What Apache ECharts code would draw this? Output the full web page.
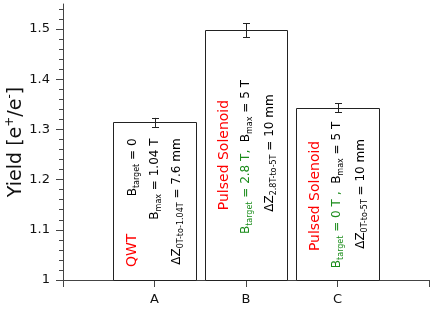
<!DOCTYPE html>
<html><head><meta charset="utf-8">
<script src="https://cdn.jsdelivr.net/npm/echarts@6/dist/echarts.min.js"></script>
<style>html,body{margin:0;padding:0;background:#fff}#c{width:436px;height:312px}</style>
</head><body><div id="c"></div>
<script>
// ---- data ----
const categories = ['A', 'B', 'C'];
const catPositions = [1, 2, 3];
const yields = [1.314, 1.498, 1.343];
const yieldErrors = [0.009, 0.014, 0.009];
const yTickValues = [1, 1.1, 1.2, 1.3, 1.4, 1.5];
const yMinorTickValues = [1.02, 1.04, 1.06, 1.08, 1.12, 1.14, 1.16, 1.18, 1.22, 1.24, 1.26, 1.28,
  1.32, 1.34, 1.36, 1.38, 1.42, 1.44, 1.46, 1.48, 1.52, 1.54];
const xTickValues = [0, 1, 2, 3, 4];
const barNotes = [
  ['{r|QWT}', '{k|B}{ks|target}{k| = 0}', '{k|B}{ks|max}{k| = 1.04 T}', '{k|ΔZ}{ks|0T-to-1.04T}{k| = 7.6 mm}'],
  ['{r|Pulsed Solenoid}', '{g|B}{gs|target}{g| = 2.8 T,}{k|  B}{ks|max}{k| = 5 T}', '{k|ΔZ}{ks|2.8T-to-5T}{k| = 10 mm}'],
  ['{r|Pulsed Solenoid}', '{g|B}{gs|target}{g| = 0 T ,}{k|  B}{ks|max}{k| = 5 T}', '{k|ΔZ}{ks|0T-to-5T}{k| = 10 mm}']
];

// ---- layout / style ----
const FONT = 'DejaVu Sans';
const noteLayout = [
  [{dx: -22, anchor: 'bottom', dy: -13}, {dx: -22, anchor: 'top', dy: 16}, {dx: 0, anchor: 'top', dy: 16}, {dx: 22, anchor: 'top', dy: 16}],
  [{dx: -22, anchor: 'center', dy: 0}, {dx: 0, anchor: 'center', dy: 2}, {dx: 24, anchor: 'center', dy: -2}],
  [{dx: -22, anchor: 'center', dy: 2}, {dx: -1, anchor: 'center', dy: 1}, {dx: 23, anchor: 'center', dy: 0}]
];
const rich = {
  r: {fill: '#ff0000', fontSize: 14, lineHeight: 16, fontFamily: FONT},
  k: {fill: '#000', fontSize: 12, lineHeight: 16, fontFamily: FONT},
  g: {fill: '#1a8c1a', fontSize: 12, lineHeight: 16, fontFamily: FONT},
  ks: {fill: '#000', fontSize: 8, lineHeight: 6, verticalAlign: 'bottom', fontFamily: FONT},
  gs: {fill: '#1a8c1a', fontSize: 8, lineHeight: 6, verticalAlign: 'bottom', fontFamily: FONT}
};
const axisColor = '#444';
const px = v => Math.round(v) + 0.5;

const chart = echarts.init(document.getElementById('c'), null, {renderer: 'canvas'});
const seriesData = catPositions.map((p, i) => [p, yields[i], yieldErrors[i]]);

chart.setOption({
  animation: false,
  backgroundColor: '#fff',
  grid: {left: 63, right: 7, top: 4, bottom: 32, containLabel: false, outerBoundsMode: 'none'},
  xAxis: {
    type: 'value', min: 0, max: 4, interval: 1,
    splitLine: {show: false},
    axisLine: {show: true, lineStyle: {color: axisColor, width: 1}},
    axisTick: {show: true, length: 7, customValues: xTickValues, lineStyle: {color: axisColor}},
    axisLabel: {
      customValues: catPositions, margin: 13, color: '#111', fontSize: 13, fontFamily: FONT,
      formatter: v => { const k = catPositions.indexOf(v); return k >= 0 ? categories[k] : ''; }
    }
  },
  yAxis: [{
    type: 'value', min: 1, max: 1.55,
    name: '{m|Yield [e}{s|+}{m|/e}{s|-}{m|]}',
    nameLocation: 'middle', nameGap: 35, nameRotate: 90, nameMoveOverlap: false,
    nameTextStyle: {rich: {
      m: {fontSize: 19, lineHeight: 24, color: '#111', fontFamily: FONT},
      s: {fontSize: 12, lineHeight: 10, verticalAlign: 'top', color: '#111', fontFamily: FONT}
    }},
    splitLine: {show: false},
    axisLine: {show: true, lineStyle: {color: axisColor, width: 1}},
    axisTick: {show: true, length: 7, customValues: yTickValues, lineStyle: {color: axisColor}},
    axisLabel: {customValues: yTickValues, margin: 13, color: '#111', fontSize: 13, fontFamily: FONT}
  }, {
    type: 'value', min: 1, max: 1.55, position: 'left', offset: 0,
    splitLine: {show: false},
    axisLine: {show: false},
    axisTick: {show: true, length: 4, customValues: yMinorTickValues, lineStyle: {color: axisColor}},
    axisLabel: {show: false}
  }],
  series: [{
    type: 'custom',
    name: 'Yield',
    data: seriesData,
    encode: {x: 0, y: 1},
    z: 2,
    renderItem: function (params, api) {
      const i = params.dataIndex;
      const x = api.value(0), y = api.value(1);
      const half = 0.45;
      const tl = api.coord([x - half, y]);
      const br = api.coord([x + half, 1]);
      const c = api.coord([x, y]);
      const x0 = px(tl[0]), x1 = px(br[0]), y0 = px(tl[1]), y1 = px(br[1]);
      const children = [{
        type: 'rect',
        shape: {x: x0, y: y0, width: x1 - x0, height: y1 - y0},
        style: {fill: '#fff', stroke: '#222', lineWidth: 1}
      }];
      barNotes[i].forEach((t, j) => {
        const L = noteLayout[i][j];
        let ty, align;
        if (L.anchor === 'top') { ty = tl[1] + L.dy; align = 'right'; }
        else if (L.anchor === 'bottom') { ty = br[1] + L.dy; align = 'left'; }
        else { ty = (tl[1] + br[1]) / 2 + L.dy; align = 'center'; }
        children.push({
          type: 'text', x: c[0] + L.dx, y: ty, rotation: Math.PI / 2,
          style: {text: t, rich: rich, align: align, verticalAlign: 'middle', fontFamily: FONT}
        });
      });
      return {type: 'group', children: children};
    }
  }, {
    type: 'custom',
    name: 'Error',
    data: seriesData,
    encode: {x: 0, y: 1},
    z: 3,
    renderItem: function (params, api) {
      const x = api.value(0), y = api.value(1), e = api.value(2);
      const top = api.coord([x, y + e]);
      const bot = api.coord([x, y - e]);
      const cx = px(top[0]);
      const st = {stroke: '#222', lineWidth: 1};
      return {type: 'group', children: [
        {type: 'line', shape: {x1: cx, y1: top[1], x2: cx, y2: bot[1]}, style: st},
        {type: 'line', shape: {x1: cx - 3.5, y1: px(top[1]), x2: cx + 3.5, y2: px(top[1])}, style: st},
        {type: 'line', shape: {x1: cx - 3.5, y1: px(bot[1]), x2: cx + 3.5, y2: px(bot[1])}, style: st}
      ]};
    }
  }]
});
</script>
</body></html>
